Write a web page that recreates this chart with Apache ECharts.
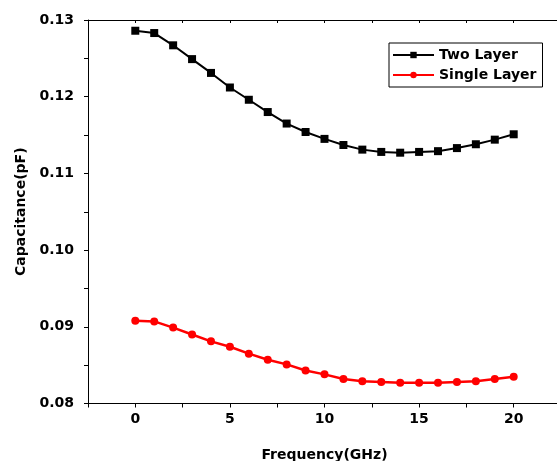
<!DOCTYPE html>
<html>
<head>
<meta charset="utf-8">
<script src="https://cdn.jsdelivr.net/npm/echarts@6/dist/echarts.min.js"></script>
<style>html,body{margin:0;padding:0;background:#fff;}#c{width:557px;height:461px;}</style>
</head>
<body>
<div id="c"></div>
<script>
const frequency = [0,1,2,3,4,5,6,7,8,9,10,11,12,13,14,15,16,17,18,19,20];
const twoLayer = [0.1286,0.1283,0.1267,0.1249,0.1231,0.1212,0.1196,0.1180,0.1165,0.1154,0.1145,0.1137,0.1131,0.1128,0.1127,0.1128,0.1129,0.1133,0.1138,0.1144,0.1151];
const singleLayer = [0.0908,0.0907,0.0899,0.0890,0.0881,0.0874,0.0865,0.0857,0.0851,0.0843,0.0838,0.0832,0.0829,0.0828,0.0827,0.0827,0.0827,0.0828,0.0829,0.0832,0.0835];
const seriesNames = ['Two Layer','Single Layer'];
const xLabelValues = [0,5,10,15,20];

const font = 'DejaVu Sans';
const chart = echarts.init(document.getElementById('c'));
const pair = (ys) => frequency.map((x,i)=>[x, ys[i]]);
const xFmt = (v) => xLabelValues.some(t => Math.abs(t - v) < 1e-6) ? String(Math.round(v)) : '';
const yFmt = (v) => { const r = Math.round(v*100); return Math.abs(v*100 - r) < 1e-6 ? (r/100).toFixed(2) : ''; };

chart.setOption({
  animation: false,
  backgroundColor: '#fff',
  grid: { left: 88, top: 20, width: 473, height: 383.5, containLabel: false, outerBoundsMode: 'none' },
  xAxis: [
    { type: 'value', position: 'bottom', min: -2.5, max: 22.5, interval: 2.5,
      name: 'Frequency(GHz)', nameLocation: 'middle', nameGap: 45,
      nameTextStyle: { fontFamily: font, fontWeight: 'bold', fontSize: 14, color: '#000' },
      axisLine: { onZero: false, lineStyle: { color: '#000', width: 1 } },
      axisTick: { show: true, inside: false, length: 4, lineStyle: { color: '#000' } },
      axisLabel: { formatter: xFmt, fontFamily: font, fontWeight: 'bold', fontSize: 14, color: '#000', margin: 9 },
      splitLine: { show: false } },
    { type: 'value', position: 'top', min: -2.5, max: 22.5, interval: 2.5,
      axisLine: { onZero: false, lineStyle: { color: '#000', width: 1 } },
      axisTick: { show: true, inside: true, length: 3, lineStyle: { color: '#000' } },
      axisLabel: { show: false }, splitLine: { show: false } }
  ],
  yAxis: [
    { type: 'value', position: 'left', min: 0.08, max: 0.13, interval: 0.005,
      name: 'Capacitance(pF)', nameLocation: 'middle', nameGap: 60, nameRotate: 90,
      nameTextStyle: { fontFamily: font, fontWeight: 'bold', fontSize: 14, color: '#000' },
      axisLine: { show: true, onZero: false, lineStyle: { color: '#000', width: 1 } },
      axisTick: { show: true, inside: false, length: 4, lineStyle: { color: '#000' } },
      axisLabel: { formatter: yFmt, fontFamily: font, fontWeight: 'bold', fontSize: 14, color: '#000', margin: 14 },
      splitLine: { show: false } },
    { type: 'value', position: 'right', min: 0.08, max: 0.13, interval: 0.005,
      axisLine: { show: true, onZero: false, lineStyle: { color: '#000', width: 1 } },
      axisTick: { show: true, inside: true, length: 4, lineStyle: { color: '#000' } },
      axisLabel: { show: false }, splitLine: { show: false } }
  ],
  legend: {
    left: 389, top: 43, orient: 'vertical',
    borderColor: '#000', borderWidth: 1, borderRadius: 0,
    padding: [5, 6, 5, 3], itemGap: 6,
    itemWidth: 41, itemHeight: 8,
    textStyle: { fontFamily: font, fontWeight: 'bold', fontSize: 14, color: '#000' },
    data: seriesNames
  },
  series: [
    { name: seriesNames[0], type: 'line', data: pair(twoLayer),
      symbol: 'rect', symbolSize: 8, itemStyle: { color: '#000' },
      lineStyle: { color: '#000', width: 2 } },
    { name: seriesNames[1], type: 'line', data: pair(singleLayer),
      symbol: 'circle', symbolSize: 8, itemStyle: { color: '#ff0000' },
      lineStyle: { color: '#ff0000', width: 2.5 } }
  ]
});
</script>
</body>
</html>
